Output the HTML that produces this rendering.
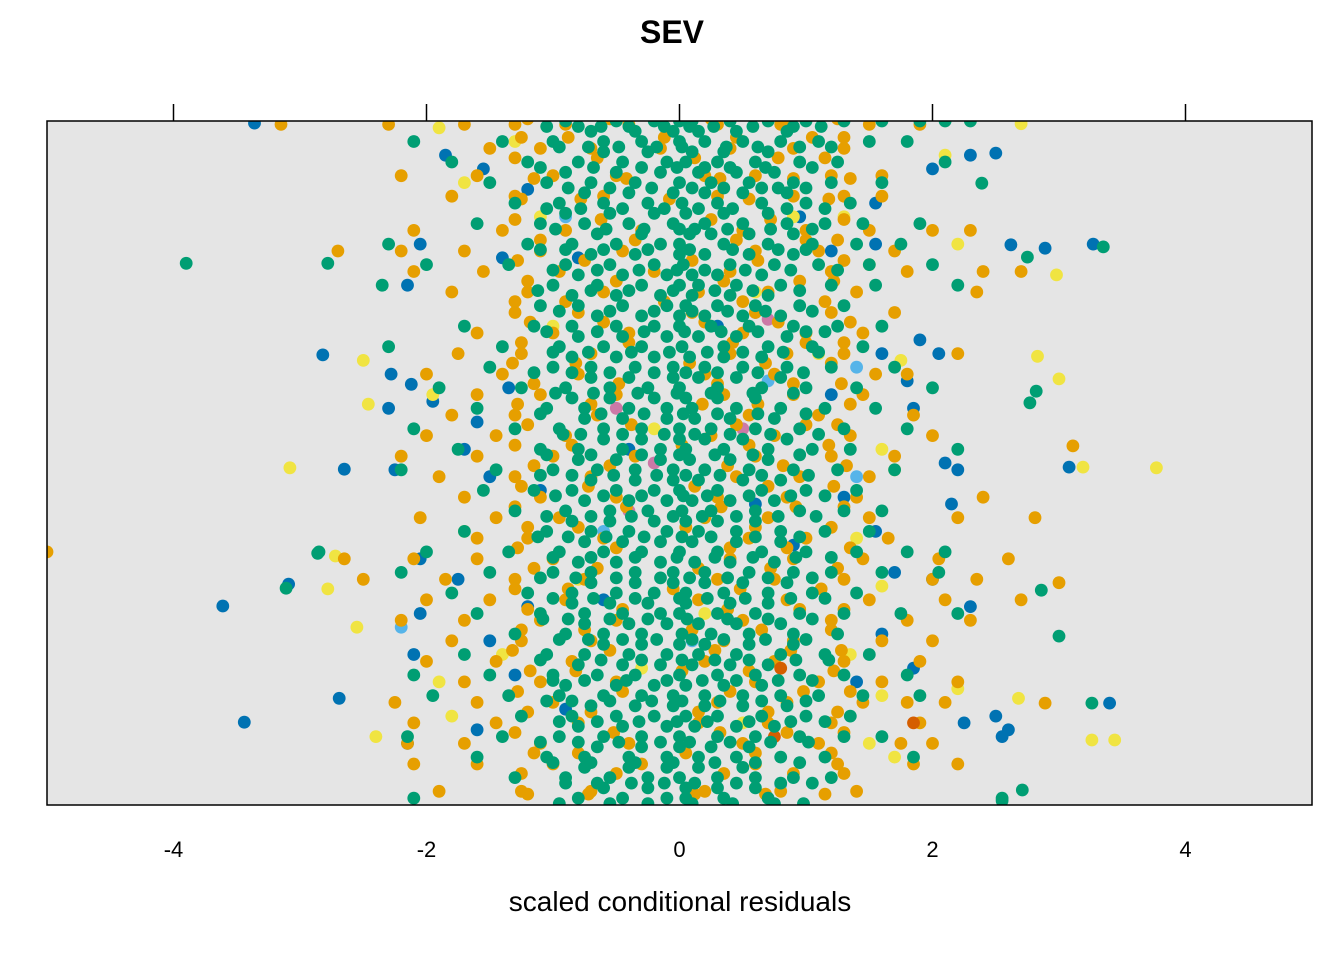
<!DOCTYPE html>
<html><head><meta charset="utf-8"><style>
html,body{margin:0;padding:0;background:#fff;}
svg{display:block;font-family:"Liberation Sans",Arial,sans-serif;}
</style></head><body>
<svg id="chart" width="1344" height="960" viewBox="0 0 1344 960">
<defs><clipPath id="pclip"><rect x="47" y="121" width="1265" height="684"/></clipPath></defs>
<text x="672" y="43" text-anchor="middle" font-size="32" font-weight="bold">SEV</text>
<rect x="47" y="121" width="1265" height="684" fill="#e5e5e5"/>
<g id="marks" clip-path="url(#pclip)"></g>
<rect x="47" y="121" width="1265" height="684" fill="none" stroke="#000" stroke-width="1.5"/>
<g id="axes"></g>
<text x="680" y="911" text-anchor="middle" font-size="28">scaled conditional residuals</text>
</svg>
<script>
const xTicks = [-4,-2,0,2,4];
const greenRows = [
[100,[-0.9,-0.5,-0.2,0,0.1,0.4,0.7,1.0,1.3,1.6,1.9,2.1,2.3]],
[97,[-2.1,-1.4,-1.0,-0.6,-0.3,0,0.2,0.5,0.8,1.1,1.5,1.8]],
[94,[-1.8,-1.2,-0.8,-0.45,-0.1,0.05,0.3,0.6,0.95,1.25,2.1]],
[91,[-1.5,-1.05,-0.7,-0.35,0,0.25,0.55,0.9,1.2,1.6]],
[88,[-1.3,-0.95,-0.6,-0.25,0.02,0.3,0.65,1.0,1.35]],
[85,[-1.6,-1.1,-0.75,-0.4,-0.05,0.2,0.5,0.85,1.15,1.45,1.9]],
[82,[-2.3,-1.2,-0.85,-0.5,-0.15,0,0.35,0.7,1.05,1.4,1.75]],
[79,[-2.0,-1.35,-0.9,-0.55,-0.2,0.03,0.4,0.75,1.1,1.5,2.0]],
[76,[-2.35,-1.0,-0.65,-0.3,0,0.15,0.45,0.8,1.2,1.55,2.2]],
[73,[-1.1,-0.8,-0.45,-0.1,0.05,0.3,0.6,0.95,1.3]],
[70,[-1.7,-1.15,-0.85,-0.5,-0.2,0,0.25,0.55,0.9,1.25,1.6]],
[67,[-2.3,-1.4,-0.95,-0.6,-0.3,0.02,0.35,0.7,1.05,1.45]],
[64,[-1.5,-1.0,-0.7,-0.35,-0.05,0.2,0.5,0.85,1.2,1.7]],
[61,[-1.9,-1.25,-0.9,-0.55,-0.25,0,0.3,0.65,1.0,1.4,2.0]],
[58,[-1.6,-1.05,-0.75,-0.4,-0.1,0.1,0.45,0.8,1.15,1.55]],
[55,[-2.1,-1.3,-0.95,-0.6,-0.3,0,0.25,0.6,0.95,1.3,1.8]],
[52,[-1.75,-1.1,-0.8,-0.45,-0.15,0.05,0.35,0.7,1.05,1.35,2.2]],
[49,[-2.2,-1.45,-1.0,-0.65,-0.35,-0.05,0.2,0.55,0.9,1.25,1.7]],
[46,[-1.55,-1.15,-0.85,-0.5,-0.2,0,0.3,0.65,1.0,1.4]],
[43,[-1.3,-0.9,-0.55,-0.25,0.02,0.25,0.6,0.95,1.3,1.6]],
[40,[-1.7,-1.05,-0.7,-0.4,-0.1,0.15,0.45,0.8,1.15,1.5]],
[37,[-2.85,-2.0,-1.35,-0.95,-0.6,-0.3,0,0.3,0.65,1.0,1.4,1.8,2.1]],
[34,[-2.2,-1.5,-1.0,-0.7,-0.35,-0.05,0.2,0.55,0.9,1.2,1.6,2.05]],
[31,[-1.8,-1.2,-0.85,-0.5,-0.2,0.05,0.35,0.7,1.05,1.4]],
[28,[-1.6,-1.1,-0.75,-0.45,-0.15,0,0.3,0.6,0.95,1.3,1.75,2.2]],
[25,[-1.3,-0.9,-0.6,-0.3,0.02,0.25,0.55,0.9,1.25]],
[22,[-1.7,-1.05,-0.75,-0.4,-0.1,0.15,0.45,0.8,1.15,1.5]],
[19,[-2.1,-1.5,-1.0,-0.65,-0.35,0,0.3,0.6,0.95,1.3,1.8]],
[16,[-1.95,-1.35,-0.95,-0.6,-0.3,-0.05,0.2,0.5,0.8,1.1,1.45,1.9]],
[13,[-1.25,-0.85,-0.5,-0.2,0.05,0.3,0.65,1.0,1.35]],
[10,[-2.15,-1.4,-0.95,-0.6,-0.3,0,0.3,0.6,0.95,1.3,1.6]],
[7,[-1.6,-1.05,-0.75,-0.4,-0.1,0.15,0.45,0.8,1.15,1.85]],
[4,[-1.3,-0.9,-0.55,-0.25,0,0.3,0.6,0.9,1.2]],
[1,[-2.1,-0.8,-0.45,-0.1,0.05,0.35,0.7,2.55]],
[98.5,[-0.7,-0.35,-0.05,0.15,0.45,0.85]],
[95.5,[-0.6,-0.25,0.1,0.35,0.7]],
[92.5,[-0.9,-0.5,-0.15,0.15,0.45,0.75]],
[89.5,[-0.75,-0.4,-0.05,0.2,0.5,0.85]],
[86.5,[-0.9,-0.55,-0.2,0.05,0.35,0.7]],
[83.5,[-0.65,-0.3,0.08,0.25,0.55,0.9]],
[80.5,[-0.7,-0.35,0,0.2,0.55,0.9]],
[77.5,[-0.8,-0.45,-0.1,0.1,0.3,0.65]],
[74.5,[-0.85,-0.5,-0.15,0.1,0.4,0.7]],
[71.5,[-0.65,-0.3,0,0.2,0.5,0.8]],
[68.5,[-0.8,-0.45,-0.1,0.15,0.45,0.85]],
[65.5,[-0.85,-0.5,-0.2,0.08,0.35,0.65]],
[62.5,[-0.7,-0.4,-0.05,0.15,0.45,0.8]],
[59.5,[-0.85,-0.55,-0.2,0.05,0.3,0.6]],
[56.5,[-0.75,-0.45,-0.1,0.12,0.4,0.75]],
[53.5,[-0.6,-0.3,0,0.2,0.5,0.85]],
[50.5,[-0.8,-0.5,-0.15,0.08,0.4,0.7]],
[47.5,[-0.7,-0.35,-0.05,0.15,0.5,0.8]],
[44.5,[-0.75,-0.4,-0.1,0.1,0.4,0.75]],
[41.5,[-0.85,-0.55,-0.2,0.05,0.3,0.6]],
[38.5,[-0.75,-0.45,-0.15,0.1,0.45,0.8]],
[35.5,[-0.8,-0.5,-0.15,0.12,0.4,0.75]],
[32.5,[-0.7,-0.35,-0.05,0.2,0.5,0.85]],
[29.5,[-0.85,-0.55,-0.25,0.05,0.4,0.7]],
[26.5,[-0.75,-0.4,-0.1,0.15,0.45,0.8]],
[23.5,[-0.6,-0.3,0,0.2,0.55,0.9]],
[20.5,[-0.8,-0.45,-0.15,0.1,0.4,0.7]],
[17.5,[-0.9,-0.5,-0.2,0.05,0.35,0.65]],
[14.5,[-0.7,-0.35,-0.05,0.2,0.5,0.85]],
[11.5,[-0.8,-0.45,-0.1,0.12,0.45,0.75]],
[8.5,[-0.65,-0.3,0,0.25,0.55]],
[5.5,[-0.75,-0.4,-0.1,0.15,0.5]],
[2.5,[-0.6,-0.25,0.05,0.3,0.6]]
];
const greenCoreRows = [
[99.2,[-1.05,-0.8,-0.62,-0.4,-0.12,0.08,0.27,0.58,0.9,1.12]],
[96.2,[-0.95,-0.72,-0.48,-0.18,0.02,0.37,0.62,0.95,1.2]],
[93.2,[-1.1,-0.68,-0.3,-0.02,0.2,0.4,0.68,1.05]],
[90.2,[-0.88,-0.55,-0.22,0.1,0.35,0.65,0.78,1.0]],
[87.2,[-1.05,-0.78,-0.45,-0.12,0.15,0.42,0.85,1.15]],
[84.2,[-0.98,-0.58,-0.28,0.0,0.12,0.38,0.72,1.05]],
[81.2,[-1.1,-0.9,-0.6,-0.25,0.08,0.42,0.78,1.0]],
[78.2,[-1.0,-0.65,-0.32,-0.02,0.2,0.52,0.88,1.25]],
[75.2,[-1.12,-0.7,-0.4,-0.05,0.28,0.58,0.95]],
[72.2,[-0.95,-0.55,-0.2,0.1,0.38,0.68,1.05]],
[69.2,[-1.05,-0.65,-0.28,0.04,0.33,0.62,1.0,1.15]],
[66.2,[-1.0,-0.72,-0.38,-0.08,0.22,0.5,0.82,1.1]],
[63.2,[-1.15,-0.85,-0.55,-0.2,0.05,0.3,0.62,0.98]],
[60.2,[-0.98,-0.68,-0.33,-0.02,0.25,0.58,0.9]],
[57.2,[-1.1,-0.62,-0.28,0.03,0.3,0.62,1.0]],
[54.2,[-0.92,-0.78,-0.45,-0.12,0.12,0.4,0.72,1.1]],
[51.2,[-1.05,-0.7,-0.3,0.0,0.28,0.58,0.95]],
[48.2,[-1.1,-0.85,-0.52,-0.18,0.05,0.32,0.65,1.02]],
[45.2,[-0.98,-0.6,-0.3,0.03,0.22,0.55,0.88,1.15]],
[42.2,[-1.05,-0.7,-0.38,-0.05,0.18,0.45,0.78,1.08]],
[39.2,[-1.12,-0.88,-0.58,-0.28,0.02,0.25,0.6,0.95]],
[36.2,[-1.0,-0.7,-0.35,-0.02,0.28,0.58,0.92,1.2]],
[33.2,[-1.1,-0.82,-0.5,-0.15,0.08,0.38,0.7,1.05]],
[30.2,[-1.0,-0.68,-0.35,0.0,0.22,0.52,0.88,1.15]],
[27.2,[-1.08,-0.88,-0.55,-0.25,0.06,0.38,0.7,1.05]],
[24.2,[-0.95,-0.72,-0.45,-0.18,0.1,0.35,0.68,1.0]],
[21.2,[-1.1,-0.62,-0.3,0.02,0.28,0.55,0.92,1.18]],
[18.2,[-1.0,-0.75,-0.42,-0.1,0.18,0.45,0.78,1.05]],
[15.2,[-1.05,-0.85,-0.55,-0.22,0.02,0.32,0.65,1.0]],
[12.2,[-0.95,-0.65,-0.32,-0.02,0.22,0.55,0.88,1.15]],
[9.2,[-1.1,-0.8,-0.48,-0.15,0.08,0.4,0.72,1.02]],
[6.2,[-1.0,-0.7,-0.35,-0.05,0.28,0.6,0.95]],
[3.2,[-0.9,-0.65,-0.38,-0.12,0.12,0.45,0.8,1.05]],
[0.2,[-0.95,-0.55,-0.25,0.1,0.42,0.75,0.98]]
];
const orangeRows = [
[99.5,[-3.15,-2.3,-1.7,-1.3,-0.9,-0.4,0.3,0.8,1.5,1.9]],
[96,[-1.5,-1.1,-0.7,-0.15,0.4,0.9,1.3]],
[92,[-2.2,-1.6,-1.0,-0.5,0.2,0.6,1.2,1.6]],
[89,[-1.8,-1.3,-0.6,0.3,0.9,1.3,1.6]],
[84,[-2.1,-1.4,-0.9,-0.3,0.5,1.0,1.5,2.0,2.3]],
[81,[-2.7,-2.2,-1.7,-1.1,-0.45,0.6,1.1,1.7]],
[78,[-2.1,-1.55,-0.95,-0.2,0.4,1.2,1.8,2.4,2.7]],
[75,[-1.8,-1.2,-0.6,0.15,0.7,1.4,2.35]],
[72,[-1.3,-0.8,0.1,0.6,1.2,1.7]],
[69,[-1.6,-1.0,-0.4,0.5,1.0,1.45]],
[66,[-1.75,-1.25,-0.7,0.4,0.85,1.3,2.2]],
[63,[-2.0,-1.4,-0.8,0.2,0.75,1.55,1.8]],
[60,[-1.6,-1.1,-0.5,0.35,0.9,1.45]],
[57,[-1.8,-1.3,-0.65,0.55,1.1,1.85]],
[54,[-2.0,-1.45,-0.9,0.25,0.75,1.35,2.0]],
[51,[-2.2,-1.6,-1.0,-0.35,0.6,1.2,1.7]],
[48,[-1.9,-1.3,-0.7,0.45,0.95,1.5]],
[45,[-1.7,-1.1,-0.5,0.3,0.85,1.4,2.4]],
[42,[-2.05,-1.45,-0.95,0.2,0.7,1.5,2.2]],
[39,[-1.6,-1.2,-0.6,0.55,1.0,1.65]],
[36,[-2.65,-2.1,-1.6,-1.0,0.4,0.9,1.45,2.05,2.6]],
[33,[-2.5,-1.85,-1.3,-0.75,0.3,0.75,1.3,2.0,2.35]],
[30,[-2.0,-1.5,-0.9,0.15,0.85,1.5,2.1,2.7]],
[27,[-2.2,-1.7,-1.1,-0.5,0.5,1.2,1.8,2.3]],
[24,[-1.8,-1.25,-0.7,0.35,0.9,1.6,2.0]],
[21,[-2.0,-1.45,-0.85,0.2,0.75,1.3,1.9]],
[18,[-1.7,-1.1,-0.5,0.6,1.1,1.6,2.2]],
[15,[-2.25,-1.6,-1.0,0.3,0.85,1.45,1.8,2.1]],
[12,[-2.1,-1.45,-0.8,0.15,0.7,1.2,1.9]],
[9,[-2.15,-1.7,-1.1,-0.4,0.5,1.1,1.75,2.0]],
[6,[-2.1,-1.6,-1.0,-0.3,0.6,1.25,1.85,2.2]],
[2,[-1.9,-1.25,-0.7,0.2,0.8,1.4]]
];
const orangeCoreRows = [
[100.3,[-1.2,-0.55,0.25,0.85,1.25]],
[97.6,[-1.25,-0.88,-0.12,0.45,1.05,1.3]],
[94.6,[-1.3,-0.65,0.12,0.78,1.15]],
[91.6,[-1.15,-0.42,0.32,0.9,1.35]],
[88.6,[-1.25,-0.78,-0.08,0.55,1.18]],
[85.6,[-1.3,-0.62,0.25,0.72,1.3]],
[82.6,[-1.1,-0.35,0.45,1.0,1.25]],
[79.6,[-1.28,-0.75,0.1,0.62,1.3]],
[76.6,[-1.2,-0.5,0.35,0.95,1.22]],
[73.6,[-1.3,-0.9,-0.12,0.5,1.15]],
[70.6,[-1.18,-0.6,0.2,0.78,1.35]],
[67.6,[-1.25,-0.4,0.42,1.0,1.3]],
[64.6,[-1.32,-0.82,0.08,0.68,1.2]],
[61.6,[-1.15,-0.48,0.3,0.9,1.28]],
[58.6,[-1.28,-0.7,0.18,0.62,1.35]],
[55.6,[-1.2,-0.38,0.45,1.0,1.25]],
[52.6,[-1.3,-0.85,0.02,0.55,1.18]],
[49.6,[-1.15,-0.55,0.38,0.82,1.32]],
[46.6,[-1.25,-0.72,0.12,0.7,1.22]],
[43.6,[-1.3,-0.42,0.33,0.92,1.3]],
[40.6,[-1.2,-0.8,0.05,0.6,1.2]],
[37.6,[-1.28,-0.5,0.4,0.85,1.35]],
[34.6,[-1.15,-0.65,0.15,0.72,1.25]],
[31.6,[-1.3,-0.88,-0.05,0.48,1.12]],
[28.6,[-1.2,-0.45,0.38,0.95,1.3]],
[25.6,[-1.25,-0.75,0.1,0.65,1.2]],
[22.6,[-1.32,-0.55,0.28,0.88,1.28]],
[19.6,[-1.18,-0.82,0.02,0.55,1.22]],
[16.6,[-1.28,-0.45,0.4,0.98,1.35]],
[13.6,[-1.2,-0.7,0.15,0.7,1.25]],
[10.6,[-1.3,-0.52,0.32,0.85,1.3]],
[7.6,[-1.15,-0.8,0.05,0.6,1.2]],
[4.6,[-1.25,-0.5,0.35,0.9,1.3]],
[1.6,[-1.2,-0.72,0.12,0.68,1.15]]
];
const greenPts = [[-3.9,79.2],[-2.78,79.2],[-2.86,36.8],[-3.11,31.7],[3.35,81.6],[2.75,80.1],[2.82,60.5],[2.77,58.8],[3.0,24.7],[2.86,31.4],[3.26,14.9],[2.39,90.9],[2.71,2.2],[2.55,0.6]];
const orangePts = [[-5.0,37],[3.11,52.5],[3.0,32.5],[2.81,42],[2.89,14.9]];
const bluePts = [[-2.82,65.8],[-3.61,29.1],[-3.44,12.1],[-2.69,15.6],[-2.65,49.1],[-3.09,32.3],[-3.36,99.7],[3.27,82],[2.89,81.4],[2.62,81.9],[3.08,49.4],[3.4,14.9],[2.5,95.3],
[-1.85,95],[-1.55,93],[-1.2,90],[-2.05,82],[-1.4,80],[-2.15,76],[-2.28,63],[-2.12,61.5],[-1.95,59],[-1.6,56],[-1.35,61],[-2.3,58],[-1.7,52],[-1.5,48],[-1.1,46],[-2.25,49],[-2.05,36],[-1.75,33],[-1.2,29],[-2.05,28],[-1.5,24],[-2.1,22],[-1.3,19],[-2.15,9],[-1.6,11],[-0.9,14],[-0.4,52],[0.3,70],[0.6,44],[0.9,38],[1.2,60],[1.6,66],[1.9,68],[2.05,66],[2.1,50],[2.2,49],[1.85,58],[1.55,40],[1.7,34],[2.0,33],[2.3,29],[1.4,18],[1.85,20],[2.25,12],[2.55,10],[2.6,11],[2.5,13],[1.6,25],[1.3,45],[2.3,95],[2.0,93],[1.55,88],[1.2,81],[1.55,82],[1.8,62],[2.15,44],[0.95,86],[-0.8,80],[-0.6,30]];
const yellowPts = [[-3.08,49.3],[-2.46,58.6],[-2.78,31.6],[-2.72,36.4],[2.98,77.5],[3.77,49.3],[3.19,49.4],[2.83,65.6],[3.0,62.3],[3.26,9.5],[3.44,9.5],[2.68,15.6],
[-2.55,26],[-1.7,40],[-1.95,60],[-2.5,65],[-1.1,86],[-1.7,91],[-1.3,97],[-1.9,99],[-2.4,10],[-1.8,13],[-1.9,18],[-1.4,22],[-0.8,33],[-0.5,45],[-0.2,55],[0.3,60],[0.6,75],[0.9,86],[1.3,86],[1.5,79],[2.1,95],[2.7,99.6],[1.6,52],[1.7,49],[1.4,39],[1.6,32],[1.35,22],[1.6,16],[2.2,17],[1.5,9],[1.7,7],[0.5,12],[-0.3,20],[0.2,28],[-1.0,70],[1.1,66],[1.75,65],[2.2,82]];
const skyPts = [[-2.2,26],[-0.6,40],[0.7,62],[1.4,48],[0.8,3],[0.1,24],[-0.9,86],[1.4,64]];
const pinkPts = [[0.6,72],[0.7,71],[-0.5,58],[-0.2,50],[0.5,55],[-0.4,43]];
const vermPts = [[1.85,12],[0.8,20],[0.75,10]];

const X0=47,X1=1312,Y0=121,Y1=805;
function xs(v){return X0+(v+5)/10*(X1-X0);}
function ys(v){return Y1-v/100*(Y1-Y0);}
const NS='http://www.w3.org/2000/svg';
const marks=document.getElementById('marks');
function dot(p,color,name){
  const c=document.createElementNS(NS,'circle');
  c.setAttribute('cx',xs(p[0]).toFixed(1));
  c.setAttribute('cy',ys(p[1]).toFixed(1));
  c.setAttribute('r',6.4);
  c.setAttribute('fill',color);
  
  
  marks.appendChild(c);
}
function rows(r,color,name){r.forEach(function(row){row[1].forEach(function(x){dot([x,row[0]],color,name);});});}
skyPts.forEach(function(p){dot(p,'#56B4E9','residual-point-skyblue');});
pinkPts.forEach(function(p){dot(p,'#CC79A7','residual-point-pink');});
bluePts.forEach(function(p){dot(p,'#0072B2','residual-point-blue');});
yellowPts.forEach(function(p){dot(p,'#F0E442','residual-point-yellow');});
rows(orangeRows,'#E69F00','residual-point-orange');
rows(orangeCoreRows,'#E69F00','residual-point-orange');
orangePts.forEach(function(p){dot(p,'#E69F00','residual-point-orange');});
vermPts.forEach(function(p){dot(p,'#D55E00','residual-point-vermillion');});
rows(greenRows,'#009E73','residual-point-green');
rows(greenCoreRows,'#009E73','residual-point-green');
greenPts.forEach(function(p){dot(p,'#009E73','residual-point-green');});

const axes=document.getElementById('axes');
xTicks.forEach(function(t){
  const x=xs(t);
  const l1=document.createElementNS(NS,'line');
  l1.setAttribute('x1',x);l1.setAttribute('x2',x);l1.setAttribute('y1',104);l1.setAttribute('y2',121);
  l1.setAttribute('stroke','#000');l1.setAttribute('stroke-width',1.5);
  
  
  axes.appendChild(l1);
  const tx=document.createElementNS(NS,'text');
  tx.setAttribute('x',x);tx.setAttribute('y',857);tx.setAttribute('text-anchor','middle');tx.setAttribute('font-size','22');
  tx.textContent=t;
  
  
  axes.appendChild(tx);
});
</script>
</body></html>
